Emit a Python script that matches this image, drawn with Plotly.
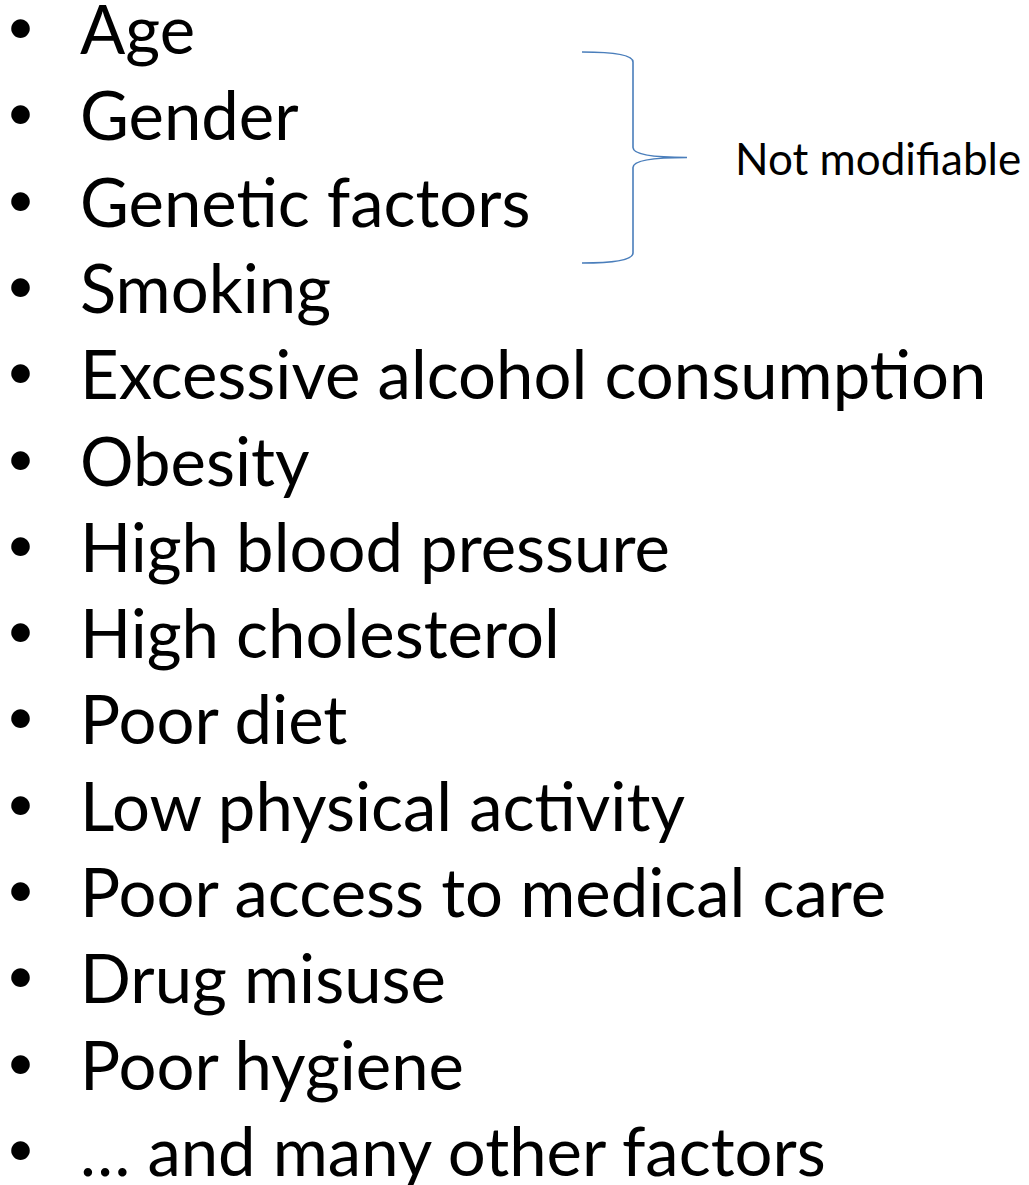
import plotly.graph_objects as go

items = [
    "Age", "Gender", "Genetic factors", "Smoking",
    "Excessive alcohol consumption", "Obesity", "High blood pressure",
    "High cholesterol", "Poor diet", "Low physical activity",
    "Poor access to medical care", "Drug misuse", "Poor hygiene",
    "… and many other factors",
]
group_label = "Not modifiable"
group_rows = [0, 1, 2]  # rows grouped by the brace

W, H = 1029, 1185
FONT = "Lato"
row0, dy = 28, 86.3
text_x, bullet_x = 78, 20.5
bullet_dy = -3
fs_main = 67
fs_bullet = 50
fs_label = 44
blue = "#4A7EBB"

fig = go.Figure()
anns = []
for i, t in enumerate(items):
    y = row0 + i * dy
    anns.append(dict(x=bullet_x, y=y + bullet_dy, text="•", xanchor="center", yanchor="middle",
                     showarrow=False, font=dict(family=FONT, size=fs_bullet, color="black")))
    anns.append(dict(x=text_x, y=y, text=t, xanchor="left", yanchor="middle",
                     showarrow=False, font=dict(family=FONT, size=fs_main, color="black")))

# brace spanning grouped rows
ytop = row0 + group_rows[0] * dy + 24
ybot = row0 + group_rows[-1] * dy + 62.4
ymid = (ytop + ybot) / 2
x0, x1, xt = 582, 633, 687
path = (f"M {x0} {ytop} Q {x1} {ytop} {x1} {ytop+10} "
        f"L {x1} {ymid-10} Q {x1} {ymid} {xt} {ymid} "
        f"Q {x1} {ymid} {x1} {ymid+10} "
        f"L {x1} {ybot-10} Q {x1} {ybot} {x0} {ybot}")
fig.add_shape(type="path", path=path, xref="x", yref="y",
              line=dict(color=blue, width=1.6))
anns.append(dict(x=733, y=ymid + 0.5, text=group_label, xanchor="left", yanchor="middle",
                 showarrow=False, font=dict(family=FONT, size=fs_label, color="black")))

fig.update_layout(
    width=W, height=H, margin=dict(l=0, r=0, t=0, b=0),
    paper_bgcolor="white", plot_bgcolor="white",
    xaxis=dict(range=[0, W], visible=False, fixedrange=True),
    yaxis=dict(range=[H, 0], visible=False, fixedrange=True),
    annotations=anns, showlegend=False,
)
fig.write_html("out.html", config={"displayModeBar": False},
               post_script="document.body.style.margin='0';")
